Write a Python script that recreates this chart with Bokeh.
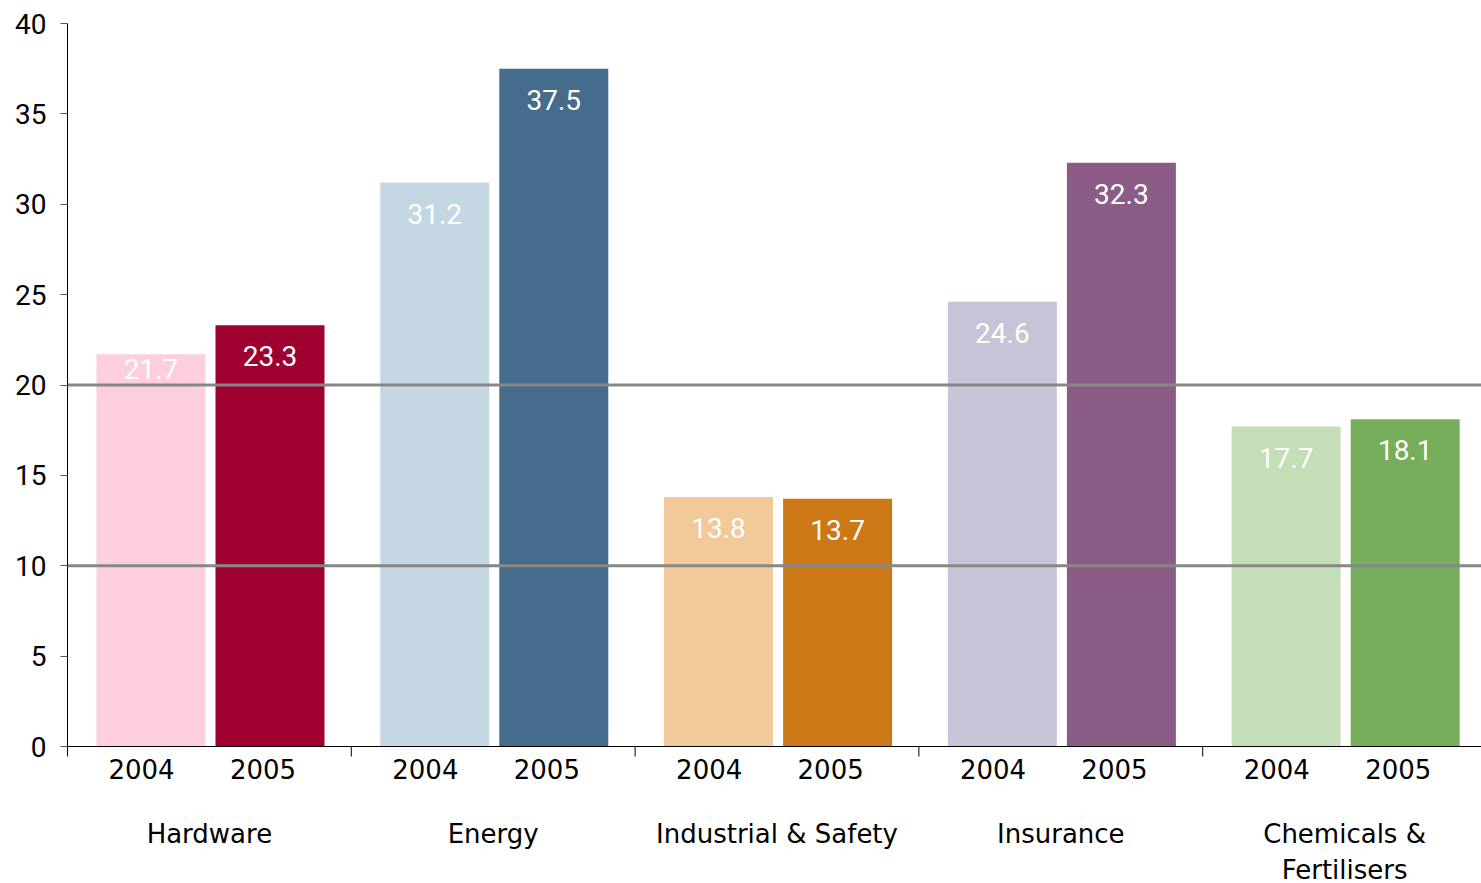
from bokeh.plotting import figure
from bokeh.models import FixedTicker, LinearAxis, Span, Range1d, ColumnDataSource
from bokeh.embed import file_html
from bokeh.resources import INLINE
from bokeh.core.properties import value

# ---- data ----
groups = ["Hardware", "Energy", "Industrial & Safety", "Insurance", "Chemicals &\nFertilisers"]
years = ["2004", "2005"]
values_2004 = [21.7, 31.2, 13.8, 24.6, 17.7]
values_2005 = [23.3, 37.5, 13.7, 32.3, 18.1]
colors_2004 = ["#FDCFDC", "#C5D7E3", "#F2CA99", "#C8C3D6", "#C4DEB8"]
colors_2005 = ["#9E0030", "#456C8A", "#CC7817", "#8A5C86", "#76AE5C"]
ref_lines = [10, 20]
y_ticks = [0, 5, 10, 15, 20, 25, 30, 35, 40]

# ---- layout constants ----
W, H = 1481, 883
top_px, zero_px = 23, 746
group_px = 283.8
bar_w = 0.384
off = [0.294, 0.7135]       # bar centre offsets inside each group
lab_off = [0.261, 0.689]    # year label offsets inside each group
ppu = (zero_px - top_px) / 40.0   # pixels per y unit


def px_below(d):
    """data y for a point d pixels below the zero line"""
    return -d / ppu


p = figure(width=W, height=H, output_backend="svg", toolbar_location=None,
           x_range=Range1d(0, (W - 67) / group_px),
           y_range=Range1d(px_below(H - zero_px), 40),
           min_border_left=67, min_border_right=0, min_border_top=top_px, min_border_bottom=0,
           x_axis_type=None, y_axis_type=None)
p.outline_line_color = None
p.xgrid.visible = False
p.ygrid.visible = False
p.background_fill_color = "white"
p.border_fill_color = "white"

# bars
xs, tops, cols, labs, laby = [], [], [], [], []
for i in range(len(groups)):
    for j, (vals, cs) in enumerate([(values_2004, colors_2004), (values_2005, colors_2005)]):
        v = vals[i]
        xs.append(i + off[j])
        tops.append(v)
        cols.append(cs[i])
        labs.append(f"{v:.1f}")
        dy = 15 if (j == 0 and i == 0) else 31
        laby.append(v - dy / ppu)

src = ColumnDataSource(dict(x=xs, top=tops, color=cols, label=labs, ly=laby))
p.vbar(x="x", top="top", bottom=0, width=bar_w, color="color", source=src, line_color=None)
p.text(x="x", y="ly", text="label", source=src, text_color="white",
       text_font=value("Roboto"), text_font_size="28px",
       text_align="center", text_baseline="middle")

# reference lines
for r in ref_lines:
    p.add_layout(Span(location=r, dimension="width", line_color="#878787", line_width=3))

# zero line (x axis line) and group boundary ticks
p.add_layout(Span(location=0, dimension="width", line_color="black", line_width=1))
n = len(groups)
p.segment(x0=list(range(1, n)), y0=[0] * (n - 1),
          x1=list(range(1, n)), y1=[px_below(10)] * (n - 1),
          line_color="black", line_width=1)

# y axis
yax = LinearAxis(ticker=FixedTicker(ticks=y_ticks), bounds=(px_below(10), 40))
yax.axis_line_color = "black"
yax.major_tick_out = 7
yax.major_tick_in = 0
yax.minor_tick_out = 0
yax.minor_tick_in = 0
yax.major_tick_line_color = "#555555"
yax.major_label_standoff = 14
yax.major_label_text_font = "Roboto"
yax.major_label_text_font_size = "28px"
yax.major_label_text_color = "black"
p.add_layout(yax, "left")

# year labels
yx, yt = [], []
for i in range(n):
    for j in range(2):
        yx.append(i + lab_off[j])
        yt.append(years[j])
p.text(x=yx, y=[px_below(22)] * len(yx), text=yt, text_color="black",
       text_font=value("DejaVu Sans"), text_font_size="26px",
       text_align="center", text_baseline="middle")

# group labels
p.text(x=[i + 0.5 for i in range(n)], y=[px_below(72)] * n, text=groups, text_color="black",
       text_font=value("DejaVu Sans"), text_font_size="26px",
       text_align="center", text_baseline="top", text_line_height=1.2)

open("out.html", "w").write(file_html(p, INLINE))
